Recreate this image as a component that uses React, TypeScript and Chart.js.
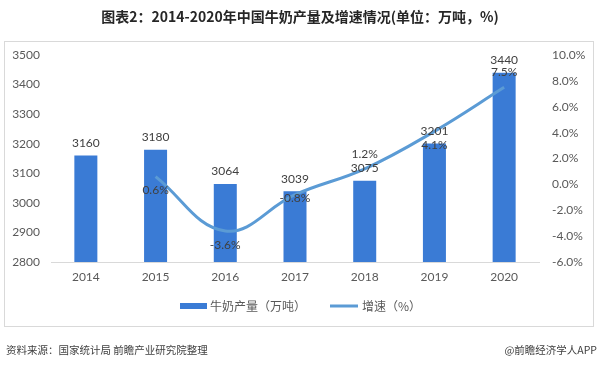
import React, { useEffect, useRef } from "react";
import { Chart, registerables } from "chart.js";

Chart.register(...registerables);

const years = ["2014", "2015", "2016", "2017", "2018", "2019", "2020"];
const milkOutput = [3160, 3180, 3064, 3039, 3075, 3201, 3440];
const growthRate: (number | null)[] = [null, 0.6, -3.6, -0.8, 1.2, 4.1, 7.5];
const growthLabelPlacement = ["none", "below", "below", "center", "above", "below", "above"];

const titleText = "图表2：2014-2020年中国牛奶产量及增速情况(单位：万吨，%)";
const sourceText = "资料来源：国家统计局 前瞻产业研究院整理";
const brandText = "@前瞻经济学人APP";
const barLegend = "牛奶产量（万吨）";
const lineLegend = "增速（%）";

const BAR_COLOR = "#3A7BD5";
const LINE_COLOR = "#5B9BD5";
const TEXT_COLOR = "#595959";
const LABEL_COLOR = "#404040";
const NUM_FONT = "Lato, 'Noto Sans CJK SC', sans-serif";
const CJK_FONT = "'Noto Sans CJK SC', sans-serif";

const decorPlugin = {
  id: "decor",
  beforeDraw(chart: any) {
    const ctx = chart.ctx;
    ctx.save();
    ctx.fillStyle = "#ffffff";
    ctx.fillRect(0, 0, chart.width, chart.height);
    ctx.strokeStyle = "#d9d9d9";
    ctx.lineWidth = 1;
    ctx.strokeRect(4.5, 41.5, 589, 285);
    ctx.restore();
  },
  afterDraw(chart: any) {
    const ctx = chart.ctx;
    ctx.save();
    ctx.fillStyle = "#262626";
    ctx.font = `bold 14px ${CJK_FONT}`;
    ctx.textAlign = "center";
    ctx.textBaseline = "middle";
    ctx.fillText(titleText, 300, 17);
    ctx.fillStyle = "#404040";
    ctx.font = `10.5px ${CJK_FONT}`;
    ctx.textAlign = "left";
    ctx.fillText(sourceText, 6, 350);
    ctx.textAlign = "right";
    ctx.fillText(brandText, 597, 350);
    ctx.fillStyle = BAR_COLOR;
    ctx.fillRect(180, 303, 27, 6);
    ctx.fillStyle = TEXT_COLOR;
    ctx.font = `12px ${CJK_FONT}`;
    ctx.textAlign = "left";
    ctx.fillText(barLegend, 210, 306);
    ctx.strokeStyle = LINE_COLOR;
    ctx.lineWidth = 3;
    ctx.beginPath();
    ctx.moveTo(330, 306);
    ctx.lineTo(358, 306);
    ctx.stroke();
    ctx.fillText(lineLegend, 362, 306);
    ctx.restore();
  },
  afterDatasetsDraw(chart: any) {
    const ctx = chart.ctx;
    ctx.save();
    ctx.font = `12px ${NUM_FONT}`;
    ctx.fillStyle = LABEL_COLOR;
    ctx.textAlign = "center";
    ctx.textBaseline = "middle";
    const barMeta = chart.getDatasetMeta(0);
    barMeta.data.forEach((el: any, i: number) => {
      ctx.fillText(String(milkOutput[i]), el.x, el.y - 12.5);
    });
    const lineMeta = chart.getDatasetMeta(1);
    lineMeta.data.forEach((el: any, i: number) => {
      const v = growthRate[i];
      if (v === null || v === undefined) return;
      const p = growthLabelPlacement[i];
      const dy = p === "above" ? -15 : p === "below" ? 14 : 3;
      ctx.fillText(v.toFixed(1) + "%", el.x, el.y + dy);
    });
    ctx.restore();
  },
};

export default function App() {
  const ref = useRef<HTMLCanvasElement | null>(null);
  useEffect(() => {
    document.body.style.margin = "0";
    const canvas = ref.current;
    if (!canvas) return;
    const chart = new Chart(canvas, {
      type: "bar",
      data: {
        labels: years,
        datasets: [
          {
            type: "bar",
            label: barLegend,
            data: milkOutput,
            backgroundColor: BAR_COLOR,
            yAxisID: "y",
            barPercentage: 0.33,
            categoryPercentage: 1,
            order: 2,
          } as any,
          {
            type: "line",
            label: lineLegend,
            data: growthRate,
            borderColor: LINE_COLOR,
            borderWidth: 3,
            pointRadius: 0,
            tension: 0.4,
            yAxisID: "y1",
            order: 1,
          } as any,
        ],
      },
      plugins: [decorPlugin],
      options: {
        responsive: false,
        animation: false,
        devicePixelRatio: 1,
        layout: { padding: { top: 55, left: 8, right: 11, bottom: 74 } },
        plugins: {
          legend: { display: false },
          title: { display: false },
          tooltip: { enabled: false },
        },
        scales: {
          x: {
            grid: { display: false, drawTicks: false },
            border: { display: true, color: "#d9d9d9" },
            ticks: { color: TEXT_COLOR, font: { family: NUM_FONT, size: 12 }, padding: 8 },
            afterFit(scale: any) {
              scale.height = 30;
            },
          },
          y: {
            position: "left",
            min: 2800,
            max: 3500,
            grid: { display: false, drawTicks: false },
            border: { display: false },
            ticks: {
              stepSize: 100,
              color: TEXT_COLOR,
              font: { family: NUM_FONT, size: 12 },
              padding: 11,
              callback: (v: any) => String(v),
            },
            afterFit(scale: any) {
              scale.width = 43;
            },
          },
          y1: {
            position: "right",
            min: -6,
            max: 10,
            grid: { display: false, drawTicks: false },
            border: { display: false },
            ticks: {
              stepSize: 2,
              color: TEXT_COLOR,
              font: { family: NUM_FONT, size: 12 },
              padding: 13,
              callback: (v: any) => Number(v).toFixed(1) + "%",
            },
            afterFit(scale: any) {
              scale.width = 50;
            },
          },
        },
      } as any,
    });
    return () => chart.destroy();
  }, []);
  return (
    <div style={{ position: "absolute", left: 0, top: 0, width: 600, height: 366 }}>
      <canvas ref={ref} width={600} height={366} />
    </div>
  );
}
